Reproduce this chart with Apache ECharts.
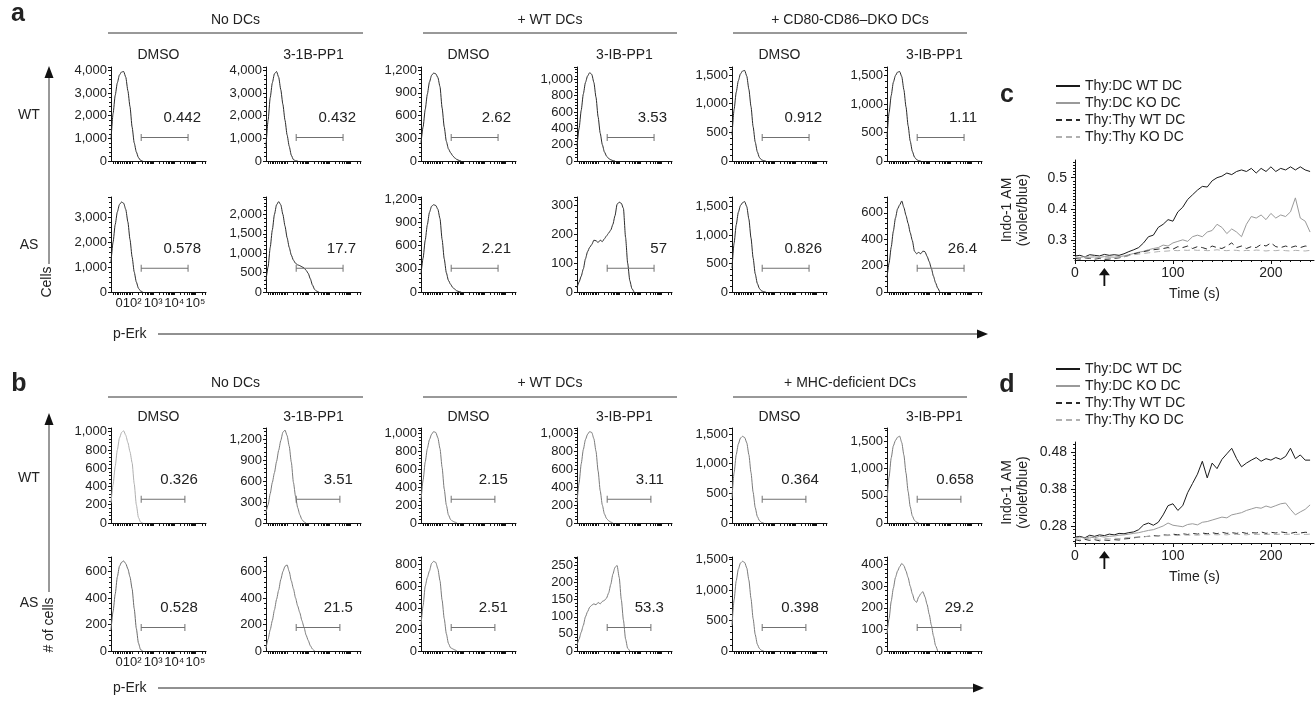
<!DOCTYPE html>
<html>
<head>
<meta charset="utf-8">
<script src="https://cdn.jsdelivr.net/npm/echarts@6.0.0/dist/echarts.min.js"></script>
<style>
  html, body { margin: 0; padding: 0; background: #fff; }
  #chart { width: 1316px; height: 701px; }
</style>
</head>
<body>
<div id="chart"></div>
<script>
const FONT = '"Liberation Sans", Arial, Helvetica, sans-serif';

// ---- flow histograms: p-Erk channel (decade units) and cell counts ----
const U = [1.0, 1.1, 1.2, 1.3, 1.4, 1.5, 1.6, 1.7, 1.8, 1.9, 2.0, 2.1, 2.2, 2.3, 2.4, 2.5, 2.6, 2.7, 2.8, 2.9, 3.0, 3.1, 3.2, 3.3, 3.4, 3.5, 3.6, 3.7];
const xTickLabels = ['010²', '10³', '10⁴', '10⁵'];

// panel a, WT thymocytes
const aWT1 = [950, 2100, 2900, 3450, 3800, 3930, 3950, 3700, 3100, 2400, 1500, 800, 400, 150, 30, 0];
const aWT2 = [650, 1800, 2800, 3450, 3850, 3950, 3700, 3150, 2500, 1800, 1150, 650, 250, 60, 10, 0];
const aWT3 = [240, 450, 680, 880, 1040, 1130, 1160, 1150, 1100, 980, 700, 450, 260, 160, 110, 70, 40, 20, 8, 0];
const aWT4 = [180, 400, 620, 820, 960, 1040, 1080, 1060, 960, 780, 540, 340, 200, 110, 60, 30, 15, 5, 0];
const aWT5 = [450, 900, 1200, 1400, 1520, 1570, 1580, 1480, 1250, 950, 600, 330, 160, 60, 20, 5, 0];
const aWT6 = [420, 850, 1150, 1380, 1500, 1560, 1570, 1480, 1250, 950, 620, 350, 170, 70, 25, 5, 0];
// panel a, AS thymocytes
const aAS1 = [1200, 2000, 2700, 3200, 3500, 3600, 3550, 3300, 2800, 2100, 1400, 800, 400, 150, 40, 0];
const aAS2 = [300, 650, 1150, 1600, 2000, 2250, 2330, 2250, 2000, 1700, 1400, 1150, 950, 820, 740, 700, 680, 650, 620, 560, 480, 340, 180, 70, 20, 0];
const aAS3 = [230, 440, 670, 870, 1030, 1110, 1130, 1120, 1070, 950, 680, 430, 250, 150, 100, 60, 35, 15, 5, 0];
const aAS4 = [15, 35, 55, 80, 115, 140, 155, 165, 180, 178, 172, 180, 175, 185, 195, 205, 215, 235, 265, 305, 312, 308, 290, 190, 100, 40, 12, 0];
const aAS5 = [420, 860, 1180, 1400, 1520, 1570, 1590, 1500, 1280, 950, 600, 320, 150, 60, 20, 5, 0];
const aAS6 = [110, 220, 340, 460, 560, 630, 660, 690, 640, 580, 520, 450, 390, 310, 290, 300, 290, 310, 305, 270, 230, 180, 120, 70, 30, 0];
// panel b, WT thymocytes
const bWT1 = [220, 420, 620, 800, 930, 990, 1010, 960, 880, 780, 660, 430, 200, 60, 10, 0];
const bWT2 = [150, 260, 420, 580, 720, 880, 1040, 1180, 1300, 1330, 1250, 1100, 870, 580, 380, 220, 120, 50, 15, 0];
const bWT3 = [250, 480, 680, 830, 930, 990, 1020, 1010, 950, 830, 620, 380, 200, 90, 40, 20, 10, 0];
const bWT4 = [230, 450, 660, 820, 930, 990, 1020, 1010, 940, 800, 580, 360, 200, 100, 50, 25, 10, 0];
const bWT5 = [430, 850, 1150, 1330, 1430, 1460, 1440, 1350, 1150, 850, 520, 260, 110, 40, 10, 0];
const bWT6 = [420, 850, 1200, 1420, 1520, 1580, 1600, 1480, 1250, 920, 580, 300, 130, 50, 15, 0];
// panel b, AS thymocytes
const bAS1 = [160, 300, 430, 560, 640, 670, 680, 660, 620, 560, 470, 320, 170, 60, 10, 0];
const bAS2 = [20, 90, 160, 230, 310, 390, 460, 540, 600, 640, 650, 600, 530, 470, 400, 340, 290, 230, 180, 120, 80, 40, 15, 0];
const bAS3 = [240, 420, 600, 680, 740, 810, 830, 820, 760, 650, 470, 300, 160, 70, 30, 20, 10, 0];
const bAS4 = [17, 35, 55, 75, 100, 115, 128, 134, 138, 135, 142, 138, 145, 148, 155, 170, 195, 225, 245, 250, 215, 150, 90, 35, 8, 0];
const bAS5 = [420, 840, 1150, 1340, 1440, 1470, 1450, 1360, 1160, 860, 530, 270, 110, 40, 10, 0];
const bAS6 = [80, 150, 230, 290, 340, 370, 390, 405, 395, 370, 340, 300, 265, 235, 225, 250, 265, 275, 250, 215, 170, 120, 70, 25, 0];

// y axis top / tick step per panel
const aWTmax = [4150, 4150, 1240, 1150, 1640, 1650], aWTstep = [1000, 1000, 300, 200, 500, 500];
const aASmax = [3800, 2450, 1230, 330, 1670, 720], aASstep = [1000, 500, 300, 100, 500, 200];
const bWTmax = [1040, 1360, 1060, 1060, 1600, 1750], bWTstep = [200, 300, 200, 200, 500, 500];
const bASmax = [710, 710, 870, 275, 1540, 435], bASstep = [200, 200, 200, 50, 500, 100];

// gated percentages
const aWTgate = ['0.442', '0.432', '2.62', '3.53', '0.912', '1.11'];
const aASgate = ['0.578', '17.7', '2.21', '57', '0.826', '26.4'];
const bWTgate = ['0.326', '3.51', '2.15', '3.11', '0.364', '0.658'];
const bASgate = ['0.528', '21.5', '2.51', '53.3', '0.398', '29.2'];
const aGate = [2.43, 4.65], bGate = [2.43, 4.5];

const groupsA = ['No DCs', '+ WT DCs', '+ CD80-CD86–DKO DCs'];
const groupsB = ['No DCs', '+ WT DCs', '+ MHC-deficient DCs'];
const treatments = ['DMSO', '3-1B-PP1', 'DMSO', '3-IB-PP1', 'DMSO', '3-IB-PP1'];

// ---- calcium flux (c, d) ----
const seriesNames = ['Thy:DC WT DC', 'Thy:DC KO DC', 'Thy:Thy WT DC', 'Thy:Thy KO DC'];
const stimTime = 30;
const TIME = [0, 5, 10, 15, 20, 25, 30, 35, 40, 45, 50, 55, 60, 65, 70, 75, 80, 85, 90, 95, 100, 105, 110, 115, 120, 125, 130, 135, 140, 145, 150, 155, 160, 165, 170, 175, 180, 185, 190, 195, 200, 205, 210, 215, 220, 225, 230, 235, 240];
const cWT = [0.248, 0.25, 0.245, 0.252, 0.25, 0.248, 0.253, 0.25, 0.252, 0.25,
  0.255, 0.262, 0.268, 0.275, 0.29, 0.31, 0.315, 0.34, 0.35, 0.365,
  0.36, 0.39, 0.405, 0.43, 0.445, 0.46, 0.472, 0.47, 0.49, 0.5,
  0.505, 0.515, 0.51, 0.52, 0.525, 0.52, 0.53, 0.515, 0.53, 0.52,
  0.535, 0.52, 0.53, 0.525, 0.535, 0.525, 0.535, 0.525, 0.52];
const cKO = [0.245, 0.243, 0.246, 0.244, 0.245, 0.243, 0.246, 0.245, 0.244, 0.246,
  0.248, 0.252, 0.256, 0.26, 0.263, 0.268, 0.272, 0.275, 0.283, 0.28,
  0.29, 0.295, 0.3, 0.295, 0.31, 0.315, 0.31, 0.325, 0.33, 0.35,
  0.34, 0.32, 0.335, 0.325, 0.31, 0.35, 0.375, 0.37, 0.38, 0.365,
  0.385, 0.37, 0.38, 0.375, 0.39, 0.435, 0.37, 0.36, 0.325];
const cThyWT = [0.24, 0.238, 0.242, 0.24, 0.238, 0.24, 0.237, 0.238, 0.24, 0.242,
  0.245, 0.25, 0.255, 0.258, 0.262, 0.265, 0.268, 0.27, 0.272, 0.275,
  0.27, 0.278, 0.275, 0.28, 0.272, 0.278, 0.275, 0.27, 0.28, 0.275,
  0.272, 0.28, 0.29, 0.275, 0.28, 0.272, 0.278, 0.275, 0.285, 0.28,
  0.29, 0.278, 0.275, 0.28, 0.275, 0.28, 0.275, 0.28, 0.278];
const cThyKO = [0.243, 0.241, 0.244, 0.242, 0.24, 0.243, 0.241, 0.243, 0.242, 0.244,
  0.246, 0.249, 0.252, 0.254, 0.256, 0.258, 0.26, 0.262, 0.263, 0.264,
  0.266, 0.265, 0.267, 0.266, 0.268, 0.266, 0.267, 0.265, 0.266, 0.268,
  0.266, 0.265, 0.267, 0.266, 0.264, 0.266, 0.265, 0.267, 0.266, 0.264,
  0.266, 0.265, 0.267, 0.265, 0.264, 0.266, 0.265, 0.264, 0.266];
const dWT = [0.25, 0.252, 0.248, 0.255, 0.252, 0.256, 0.254, 0.258, 0.256, 0.26,
  0.259, 0.262, 0.264, 0.27, 0.283, 0.288, 0.282, 0.29, 0.31, 0.335,
  0.34, 0.322, 0.335, 0.37, 0.395, 0.42, 0.455, 0.41, 0.45, 0.435,
  0.46, 0.475, 0.49, 0.462, 0.44, 0.45, 0.458, 0.465, 0.455, 0.462,
  0.458, 0.465, 0.46, 0.468, 0.49, 0.462, 0.472, 0.458, 0.458];
const dKO = [0.248, 0.25, 0.247, 0.25, 0.248, 0.252, 0.25, 0.252, 0.253, 0.255,
  0.256, 0.258, 0.26, 0.262, 0.265, 0.268, 0.27, 0.275, 0.28, 0.288,
  0.282, 0.28, 0.278, 0.284, 0.286, 0.283, 0.29, 0.292, 0.296, 0.3,
  0.304, 0.302, 0.31, 0.313, 0.316, 0.322, 0.326, 0.33, 0.328, 0.334,
  0.33, 0.335, 0.34, 0.342, 0.325, 0.31, 0.318, 0.325, 0.337];
const dThyWT = [0.243, 0.24, 0.244, 0.241, 0.243, 0.24, 0.242, 0.241, 0.243, 0.242,
  0.245, 0.246, 0.248, 0.25, 0.251, 0.252, 0.254, 0.253, 0.256, 0.255,
  0.258, 0.256, 0.259, 0.257, 0.26, 0.258, 0.261, 0.259, 0.262, 0.259,
  0.263, 0.26, 0.262, 0.26, 0.263, 0.26, 0.262, 0.261, 0.264, 0.26,
  0.263, 0.261, 0.264, 0.262, 0.26, 0.263, 0.261, 0.263, 0.262];
const dThyKO = [0.246, 0.244, 0.247, 0.245, 0.246, 0.244, 0.246, 0.245, 0.247, 0.246,
  0.248, 0.249, 0.25, 0.25, 0.251, 0.252, 0.252, 0.253, 0.254, 0.254,
  0.255, 0.254, 0.256, 0.255, 0.256, 0.255, 0.257, 0.256, 0.257, 0.256,
  0.257, 0.256, 0.258, 0.257, 0.257, 0.256, 0.258, 0.257, 0.258, 0.257,
  0.258, 0.257, 0.258, 0.257, 0.258, 0.257, 0.258, 0.257, 0.258];
const cTicks = [0.3, 0.4, 0.5], dTicks = [0.28, 0.38, 0.48];

// ---------------- layout ----------------
const COLS = [111, 266, 421, 577, 732, 887];
const PW = 95;
const rows = [
  { top: 67, h: 94, vals: [aWT1, aWT2, aWT3, aWT4, aWT5, aWT6], max: aWTmax, step: aWTstep, gates: aWTgate, range: aGate, colors: ['#2b2b2b'], labels: false },
  { top: 197, h: 95, vals: [aAS1, aAS2, aAS3, aAS4, aAS5, aAS6], max: aASmax, step: aASstep, gates: aASgate, range: aGate, colors: ['#2b2b2b'], labels: true },
  { top: 428, h: 95, vals: [bWT1, bWT2, bWT3, bWT4, bWT5, bWT6], max: bWTmax, step: bWTstep, gates: bWTgate, range: bGate, colors: ['#b0b0b0', '#7a7a7a'], labels: false },
  { top: 557, h: 94, vals: [bAS1, bAS2, bAS3, bAS4, bAS5, bAS6], max: bASmax, step: bASstep, gates: bASgate, range: bGate, colors: ['#6a6a6a', '#7a7a7a'], labels: true }
];

// biexponential-looking tick comb: linear zone near 0, then log decades
const xTicks = [1.12, 1.2, 1.28, 1.36, 1.45, 1.54, 1.62, 1.7, 1.78, 1.86, 1.93];
for (let d = 2; d <= 5; d++) {
  for (let k = 1; k <= 9; k++) {
    const v = d + Math.log10(k);
    if (v <= 5.5) xTicks.push(v);
  }
}
// "0" and "10²" sit side by side under the axis, so they share one label
const xLabelPos = [1.83, 3, 4, 5];

const AX = '#111';
const grids = [], xAxes = [], yAxes = [], series = [];

rows.forEach((row) => {
  COLS.forEach((left, c) => {
    const i = grids.length;
    const step = row.step[c];
    grids.push({ left: left, top: row.top, width: PW, height: row.h });
    xAxes.push({
      gridIndex: i, type: 'value', min: 1, max: 5.5,
      axisLine: { show: true, lineStyle: { color: AX, width: 1 } },
      axisTick: { show: true, customValues: xTicks, length: 3, lineStyle: { color: AX } },
      axisLabel: {
        show: row.labels && c === 0, customValues: xLabelPos, hideOverlap: false,
        fontSize: 13, color: '#222', margin: 5, fontFamily: FONT,
        formatter: (v) => {
          const k = xLabelPos.findIndex(p => Math.abs(p - v) < 1e-6);
          return k >= 0 ? xTickLabels[k] : '';
        }
      },
      splitLine: { show: false }
    });
    yAxes.push({
      gridIndex: i, type: 'value', min: 0, max: row.max[c], interval: step,
      axisLine: { show: true, lineStyle: { color: AX, width: 1 } },
      axisTick: { show: true, length: 3, lineStyle: { color: AX } },
      minorTick: { show: true, splitNumber: 5, length: 2, lineStyle: { color: AX } },
      axisLabel: {
        fontSize: 13, color: '#222', margin: 4, fontFamily: FONT, showMaxLabel: false,
        formatter: (v) => (v % step === 0 ? v.toLocaleString('en-US') : '')
      },
      splitLine: { show: false }, minorSplitLine: { show: false }
    });
    const vals = row.vals[c];
    series.push({
      type: 'line', xAxisIndex: i, yAxisIndex: i, silent: true,
      data: vals.map((v, k) => [U[k], v]),
      showSymbol: false, symbol: 'none', smooth: 0.2, smoothMonotone: 'x',
      lineStyle: { width: 1, color: c === 0 ? row.colors[0] : row.colors[row.colors.length - 1] }
    });
    const gy = row.max[c] * 0.25;
    series.push({
      type: 'line', xAxisIndex: i, yAxisIndex: i, silent: true,
      symbol: 'rect', symbolSize: [1, 7], showSymbol: true, showAllSymbol: true,
      itemStyle: { color: '#707070' }, lineStyle: { width: 1, color: '#707070' },
      data: [
        [row.range[0], gy],
        { value: [row.range[1], gy], label: { show: true, formatter: row.gates[c], position: [13.5, -8.5], align: 'right', verticalAlign: 'bottom', fontSize: 15, color: '#222', fontFamily: FONT } }
      ]
    });
  });
});

// calcium flux panels
const lineStyles = [
  { color: '#1a1a1a', type: 'solid' },
  { color: '#9a9a9a', type: 'solid' },
  { color: '#2a2a2a', type: [6, 4] },
  { color: '#b0b0b0', type: [6, 4] }
];
function fluxPanel(top, height, yMin, yMax, ticks, digits, sets) {
  const g = grids.length;
  grids.push({ left: 1075, top: top, width: 239, height: height });
  const xi = xAxes.length, yi = yAxes.length;
  xAxes.push({
    gridIndex: g, type: 'value', min: 0, max: 244, position: 'bottom',
    axisLine: { show: true, lineStyle: { color: AX, width: 1 } },
    axisTick: { show: true, customValues: [0, 100, 200], length: 4, lineStyle: { color: AX } },
    axisLabel: { customValues: [0, 100, 200], fontSize: 14, color: '#222', margin: 6, fontFamily: FONT },
    splitLine: { show: false },
    name: 'Time (s)', nameLocation: 'middle', nameGap: 27,
    nameTextStyle: { fontSize: 14, color: '#222', fontFamily: FONT }
  });
  const minorX = [];
  for (let t = 10; t <= 240; t += 10) if (t % 100) minorX.push(t);
  xAxes.push({
    gridIndex: g, type: 'value', min: 0, max: 244, position: 'bottom', offset: 0,
    axisLine: { show: false },
    axisTick: { show: true, customValues: minorX, length: 2, lineStyle: { color: AX } },
    axisLabel: { show: false }, splitLine: { show: false }
  });
  yAxes.push({
    gridIndex: g, type: 'value', min: yMin, max: yMax, position: 'left',
    axisLine: { show: true, lineStyle: { color: AX, width: 1 } },
    axisTick: { show: true, customValues: ticks, length: 4, lineStyle: { color: AX } },
    axisLabel: { customValues: ticks, fontSize: 14, color: '#222', margin: 8, fontFamily: FONT, formatter: v => v.toFixed(digits) },
    splitLine: { show: false },
    name: 'Indo-1 AM\n(violet/blue)', nameLocation: 'middle', nameGap: 44, nameRotate: 90,
    nameTextStyle: { fontSize: 14, color: '#222', lineHeight: 16, fontFamily: FONT }
  });
  const minorY = [];
  for (let k = Math.ceil(yMin * 100); k <= Math.floor(yMax * 100); k++) minorY.push(k / 100);
  yAxes.push({
    gridIndex: g, type: 'value', min: yMin, max: yMax, position: 'left', offset: 0,
    axisLine: { show: false },
    axisTick: { show: true, customValues: minorY, length: 2, lineStyle: { color: AX } },
    axisLabel: { show: false }, splitLine: { show: false }
  });
  sets.forEach((vals, s) => {
    const sr = {
      type: 'line', name: seriesNames[s], xAxisIndex: xi, yAxisIndex: yi, silent: true,
      data: vals.map((v, k) => [TIME[k], v]),
      showSymbol: false, symbol: 'none',
      lineStyle: { width: 1, color: lineStyles[s].color, type: lineStyles[s].type },
      itemStyle: { color: lineStyles[s].color }
    };
    if (s === 0) {
      sr.markPoint = {
        silent: true, symbol: 'path://M6,0 L12,8 L7,8 L7,20 L5,20 L5,8 L0,8 Z',
        symbolSize: [11, 18], symbolOffset: [0, 17], label: { show: false },
        itemStyle: { color: '#111' }, data: [{ coord: [stimTime, yMin] }]
      };
    }
    series.push(sr);
  });
}
fluxPanel(160, 100, 0.235, 0.557, cTicks, 1, [cWT, cKO, cThyWT, cThyKO]);
fluxPanel(442, 101, 0.234, 0.507, dTicks, 2, [dWT, dKO, dThyWT, dThyKO]);

// ---------------- annotations ----------------
const graphics = [];
function addText(x, y, text, font, extra) {
  graphics.push(Object.assign({
    type: 'text', x: x, y: y, silent: true,
    style: { text: text, font: font || ('14px ' + FONT), fill: '#222', align: 'center', verticalAlign: 'middle', textAlign: 'center', textVerticalAlign: 'middle' }
  }, extra || {}));
}
function addLine(x1, y1, x2, y2, color) {
  graphics.push({ type: 'line', silent: true, shape: { x1, y1, x2, y2 }, style: { stroke: color || '#222', lineWidth: 1 } });
}
function addHead(points) {
  graphics.push({ type: 'polygon', silent: true, shape: { points: points }, style: { fill: '#111' } });
}

const BOLD = 'bold 25px ' + FONT;
addText(18, 14, 'a', BOLD);
addText(19, 384, 'b', BOLD);
addText(1007, 95, 'c', BOLD);
addText(1007, 385, 'd', BOLD);

const spans = [[108, 363], [423, 677], [733, 967]];
[[groupsA, 20, 33, 55], [groupsB, 383, 397, 417]].forEach(([names, ty, ly, sy]) => {
  names.forEach((n, k) => {
    addText((spans[k][0] + spans[k][1]) / 2, ty, n);
    addLine(spans[k][0], ly, spans[k][1], ly, '#333');
  });
  treatments.forEach((t, c) => addText(COLS[c] + PW / 2, sy, t));
});

addText(29, 115, 'WT'); addText(29, 245, 'AS');
addText(29, 478, 'WT'); addText(29, 603, 'AS');

// cell-count arrows
addLine(49, 76, 49, 264, '#333');
addHead([[49, 66], [44.5, 78], [53.5, 78]]);
addText(47, 282, 'Cells', null, { rotation: Math.PI / 2 });
addLine(49, 423, 49, 592, '#333');
addHead([[49, 413], [44.5, 425], [53.5, 425]]);
addText(49, 625, '# of cells', null, { rotation: Math.PI / 2 });

// p-Erk arrows
const leftStyle = (t) => ({ style: { text: t, font: '14px ' + FONT, fill: '#222', align: 'left', verticalAlign: 'middle', textAlign: 'left', textVerticalAlign: 'middle' } });
addText(113, 334, 'p-Erk', null, leftStyle('p-Erk'));
addLine(158, 334, 978, 334, '#222');
addHead([[988, 334], [977, 329.5], [977, 338.5]]);
addText(113, 688, 'p-Erk', null, leftStyle('p-Erk'));
addLine(158, 688, 974, 688, '#222');
addHead([[984, 688], [973, 683.5], [973, 692.5]]);

const legendBase = {
  orient: 'vertical', left: 1050, itemWidth: 24, itemHeight: 10, itemGap: 3,
  selectedMode: false, data: seriesNames,
  itemStyle: { opacity: 0 },
  textStyle: { fontSize: 14, color: '#222', fontFamily: FONT }
};

const chart = echarts.init(document.getElementById('chart'), null, { renderer: 'canvas' });
chart.setOption({
  animation: false,
  backgroundColor: '#fff',
  textStyle: { fontFamily: FONT },
  grid: grids,
  xAxis: xAxes,
  yAxis: yAxes,
  legend: [Object.assign({ top: 74 }, legendBase), Object.assign({ top: 357 }, legendBase)],
  series: series,
  graphic: graphics
});
</script>
</body>
</html>
